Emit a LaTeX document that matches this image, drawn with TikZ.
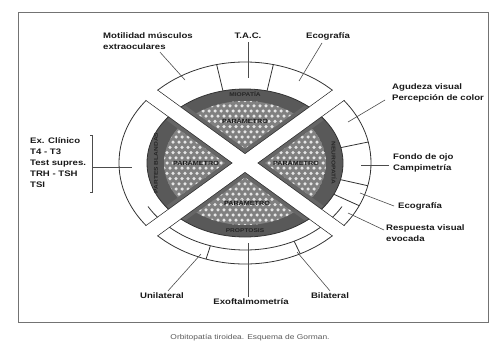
\documentclass[tikz,border=0pt]{standalone}
\usepackage{fontspec}
\newfontfamily\lf[FakeStretch=1.2]{Liberation Sans}
\begin{document}
\begin{tikzpicture}[x=1pt,y=1pt,
  lab/.style={font=\lf\bfseries\fontsize{8}{11}\selectfont, inner sep=0pt, align=left, text=black!90},
  conn/.style={draw=black!70, line width=0.6pt},
  box/.style={draw=black!80, line width=0.8pt},
  ringtxt/.style={font=\lf\bfseries\fontsize{5.5}{6}\selectfont, text=black!85, inner sep=0pt},
  sectxt/.style={font=\lf\bfseries\fontsize{6}{7}\selectfont, text=black!90, inner sep=0pt},
]
\useasboundingbox (0,0) rectangle (502,-345);
\draw[black!55, line width=0.7pt] (18,-12) rectangle (488,-322);
\coordinate (C) at (245,-163);

% ring of boxes
\draw[box] (C) ellipse [x radius=126, y radius=101];
\foreach \t in {12,-13,-25,77,103}
  \draw[box] ({245+98*cos(\t)},{-163+74*sin(\t)}) -- ({245+126*cos(\t)},{-163+101*sin(\t)});
\foreach \t in {-108,-64}
  \draw[box] ({245+112*cos(\t)},{-163+87*sin(\t)}) -- ({245+126*cos(\t)},{-163+101*sin(\t)});
\draw[box] ({245+112*cos(-150)},{-163+87*sin(-150)}) arc[start angle=-150, end angle=-30, x radius=112, y radius=87];

% shaded ellipse
\fill[black!65] (C) ellipse [x radius=98, y radius=74];
\begin{scope}
  \clip (C) ellipse [x radius=81, y radius=62];
  \fill[black!50] (C) ellipse [x radius=81, y radius=62];
  \foreach \i in {-14,...,14} \foreach \j in {-12,...,12}
    \fill[black!10] ({245+\i*6+3*mod(\j+20,2)},{-163+\j*5.2}) circle (1.75);
\end{scope}
% dark rims of the sectors along the X
\begin{scope}
  \clip (C) ellipse [x radius=98, y radius=74];
  \foreach \a in {36,-36} \foreach \s in {9.5,-9.5}
    \draw[black!60, line width=4pt, rotate around={\a:(C)}] (105,{-163+\s}) -- (385,{-163+\s});
\end{scope}
\draw[box] (C) ellipse [x radius=98, y radius=74];

% X bars: edges, then white fill
\begin{scope}
  \clip (C) ellipse [x radius=126.4, y radius=101.4];
  \foreach \a in {36,-36} \foreach \s in {7.5,-7.5}
    \draw[box, rotate around={\a:(C)}] (105,{-163+\s}) -- (385,{-163+\s});
\end{scope}
\begin{scope}
  \clip (C) ellipse [x radius=128, y radius=103];
  \foreach \a in {36,-36}
    \fill[white, rotate around={\a:(C)}] (105,-155.9) rectangle (385,-170.1);
\end{scope}

% texts in ring and sectors
\node[ringtxt] (rt) at (245,-94) {MIOPATÍA};
\node[ringtxt] (rb) at (245,-231) {PROPTOSIS};
\node[ringtxt, rotate=90] (rl) at (156,-163) {PARTES BLANDAS};
\node[ringtxt, rotate=-90] (rr) at (334,-163) {NEUROPATÍA};
\node[sectxt] (st) at (245,-121) {PARÁMETRO};
\node[sectxt] (sl) at (196,-163) {PARÁMETRO};
\node[sectxt] (sr) at (296,-163) {PARÁMETRO};
\node[sectxt] (sb) at (247,-203) {PARÁMETRO};

% labels
\node[lab, anchor=west] (mot) at (103,-41.5) {Motilidad músculos\\extraoculares};
\node[lab] (tac) at (248,-36) {T.A.C.};
\node[lab] (eco1) at (328,-36) {Ecografía};
\node[lab, anchor=west] (agu) at (392,-93) {Agudeza visual\\Percepción de color};
\node[lab, anchor=west] (fon) at (393,-163) {Fondo de ojo\\Campimetría};
\node[lab, anchor=west] (eco2) at (398,-206) {Ecografía};
\node[lab, anchor=west] (res) at (386,-233) {Respuesta visual\\evocada};
\node[lab, anchor=west] (cli) at (30,-163) {Ex. Clínico\\T4 - T3\\Test supres.\\TRH - TSH\\TSI};
\node[lab] (uni) at (162,-296) {Unilateral};
\node[lab] (exo) at (251,-302) {Exoftalmometría};
\node[lab] (bil) at (330,-296) {Bilateral};
\node[font=\lf\fontsize{7}{8}\selectfont, text=black!65, inner sep=0pt] (cap) at (250,-338) {Orbitopatía tiroidea. Esquema de Gorman.};

% connector end points
\coordinate (e-mot) at (185,-80);
\coordinate (e-tac) at (248,-78);
\coordinate (e-eco1) at (299,-81);
\coordinate (e-agu) at (348,-122);
\coordinate (e-fon) at (361,-165);
\coordinate (e-eco2) at (360,-193);
\coordinate (e-res) at (348,-213);
\coordinate (e-cli) at (132,-167);
\coordinate (e-uni) at (201,-254);
\coordinate (e-exo) at (248,-243);
\coordinate (e-bil) at (297,-252);
\coordinate (br-t) at (92,-135);
\coordinate (br-b) at (92,-192);
\coordinate (br-m) at (92,-167);

% connectors
\draw[conn] ([xshift=12pt,yshift=-2pt]mot.south) -- (e-mot);
\draw[conn] ([yshift=-3pt]tac.south) -- (e-tac);
\draw[conn] ([xshift=-6pt,yshift=-3pt]eco1.south) -- (e-eco1);
\draw[conn] ([xshift=-7pt,yshift=-7pt]agu.west) -- (e-agu);
\draw[conn] ([xshift=-4pt,yshift=-2pt]fon.west) -- (e-fon);
\draw[conn] ([xshift=-4pt]eco2.west) -- (e-eco2);
\draw[conn] ([xshift=-2pt,yshift=3pt]res.west) -- (e-res);
\draw[conn] ([xshift=-2pt]br-t) -- (br-t) -- (br-b) -- ([xshift=-2pt]br-b);
\draw[conn] (br-m) -- (e-cli);
\draw[conn] ([xshift=6pt,yshift=2pt]uni.north) -- (e-uni);
\draw[conn] ([yshift=2pt]exo.north -| e-exo) -- (e-exo);
\draw[conn] ([yshift=2pt]bil.north) -- (e-bil);
\end{tikzpicture}
\end{document}
